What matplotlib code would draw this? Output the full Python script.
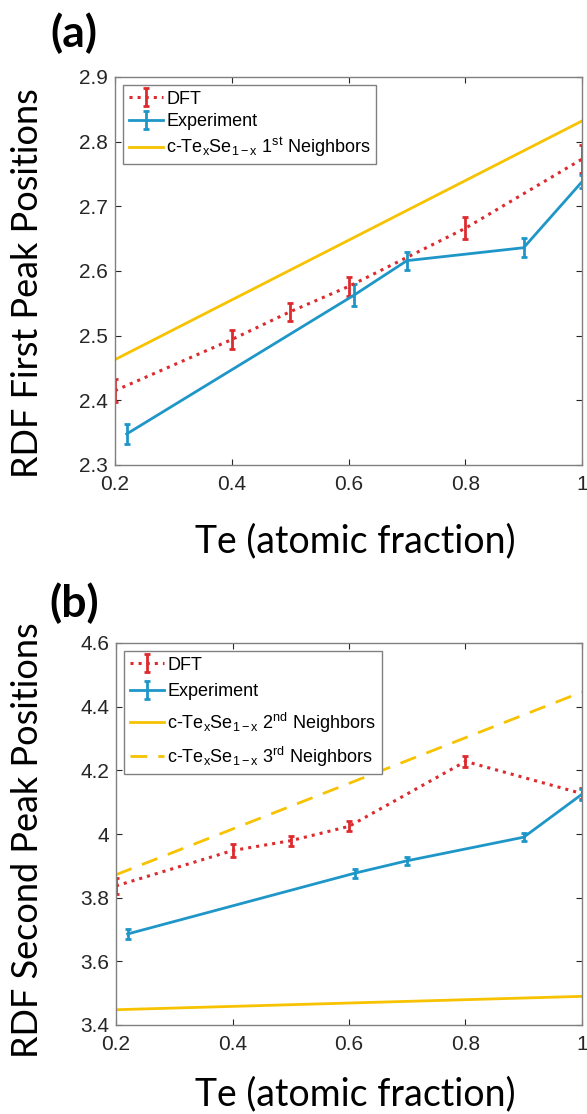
import matplotlib
matplotlib.use("Agg")
import matplotlib.pyplot as plt

plt.rcParams["font.family"] = ["Liberation Sans", "DejaVu Sans"]
plt.rcParams["mathtext.fontset"] = "custom"
plt.rcParams["mathtext.rm"] = "Liberation Sans"
plt.rcParams["mathtext.it"] = "Liberation Sans:italic"
plt.rcParams["mathtext.bf"] = "Liberation Sans:bold"

# (a) first peak positions
dft_x = [0.2, 0.4, 0.5, 0.6, 0.8, 1.0]
dft1_y = [2.415, 2.494, 2.537, 2.576, 2.666, 2.773]
dft1_err = [0.018, 0.015, 0.014, 0.015, 0.017, 0.022]
exp_x = [0.22, 0.61, 0.70, 0.90, 1.0]
exp1_y = [2.348, 2.563, 2.616, 2.636, 2.738]
exp1_err = [0.016, 0.017, 0.014, 0.015, 0.010]
cryst_x = [0.2, 1.0]
first_nb = [2.463, 2.832]

# (b) second peak positions
dft2_y = [3.837, 3.948, 3.979, 4.024, 4.228, 4.127]
dft2_err = [0.025, 0.021, 0.016, 0.016, 0.018, 0.016]
exp2_y = [3.686, 3.877, 3.916, 3.990, 4.125]
exp2_err = [0.017, 0.014, 0.013, 0.013, 0.017]
second_nb = [3.448, 3.490]
third_nb = [3.872, 4.446]

red = "#DC2A2E"
blue = "#1E96C8"
yellow = "#F7C200"
lab_font = ["Lato", "DejaVu Sans"]

fig = plt.figure(figsize=(5.87, 11.14), dpi=100)
W, H = 587, 1114
ax1 = fig.add_axes([115 / W, 1 - 465 / H, 467 / W, 388 / H])
ax2 = fig.add_axes([116 / W, 1 - 1025 / H, 466 / W, 382 / H])


def style(ax):
    ax.set_xlim(0.2, 1.0)
    ax.set_xticks([0.2, 0.4, 0.6, 0.8, 1.0])
    ax.set_xticklabels(["0.2", "0.4", "0.6", "0.8", "1"])
    ax.tick_params(direction="in", top=True, right=True, length=4,
                   width=0.8, labelsize=15, colors="#262626")
    ax.tick_params(axis="x", pad=7)
    ax.tick_params(axis="y", pad=5)
    for s in ax.spines.values():
        s.set_color("#808080")
        s.set_linewidth(1.0)


def add_legend(ax, handles, spacing):
    leg = ax.legend(handles=handles, loc="upper left", fontsize=13,
                    fancybox=False, edgecolor="#808080", framealpha=1,
                    handlelength=1.9, handletextpad=0.2, borderpad=0.3,
                    labelspacing=spacing, borderaxespad=0.45)
    leg.get_frame().set_linewidth(1.0)


d1 = ax1.errorbar(dft_x, dft1_y, yerr=dft1_err, color=red, ls=":", lw=2.2,
                  capsize=2.5, elinewidth=2, capthick=2, label="DFT")
e1 = ax1.errorbar(exp_x, exp1_y, yerr=exp1_err, color=blue, ls="-", lw=2,
                  capsize=2.5, elinewidth=2, capthick=2, label="Experiment")
n1, = ax1.plot(cryst_x, first_nb, color=yellow, lw=2,
               label=r"c-Te$_\mathrm{x}$Se$_\mathrm{1-x}$ 1$^\mathrm{st}$ Neighbors")
style(ax1)
ax1.set_ylim(2.3, 2.9)
ax1.set_yticks([2.3, 2.4, 2.5, 2.6, 2.7, 2.8, 2.9])
add_legend(ax1, [d1, e1, n1], 0.3)

d2 = ax2.errorbar(dft_x, dft2_y, yerr=dft2_err, color=red, ls=":", lw=2.2,
                  capsize=2.5, elinewidth=2, capthick=2, label="DFT")
e2 = ax2.errorbar(exp_x, exp2_y, yerr=exp2_err, color=blue, ls="-", lw=2,
                  capsize=2.5, elinewidth=2, capthick=2, label="Experiment")
n2, = ax2.plot(cryst_x, second_nb, color=yellow, lw=2,
               label=r"c-Te$_\mathrm{x}$Se$_\mathrm{1-x}$ 2$^\mathrm{nd}$ Neighbors")
n3, = ax2.plot(cryst_x, third_nb, color=yellow, lw=2, ls=(0, (6, 4)),
               label=r"c-Te$_\mathrm{x}$Se$_\mathrm{1-x}$ 3$^\mathrm{rd}$ Neighbors")
style(ax2)
ax2.set_ylim(3.4, 4.6)
ax2.set_yticks([3.4, 3.6, 3.8, 4.0, 4.2, 4.4, 4.6])
ax2.set_yticklabels(["3.4", "3.6", "3.8", "4", "4.2", "4.4", "4.6"])
add_legend(ax2, [d2, e2, n2, n3], 0.55)

# axis labels and panel letters
fig.text(28 / W, 1 - 283 / H, "RDF First Peak Positions", rotation=90,
         ha="center", va="center", fontsize=26, family=lab_font)
fig.text(28 / W, 1 - 840 / H, "RDF Second Peak Positions", rotation=90,
         ha="center", va="center", fontsize=26, family=lab_font)
fig.text(355 / W, 1 - 541 / H, "Te (atomic fraction)", ha="center",
         va="center", fontsize=27, family=lab_font)
fig.text(355 / W, 1 - 1094 / H, "Te (atomic fraction)", ha="center",
         va="center", fontsize=27, family=lab_font)
fig.text(74 / W, 1 - 33 / H, "(a)", ha="center", va="center",
         fontsize=32, fontweight="bold", family=lab_font)
fig.text(74 / W, 1 - 603 / H, "(b)", ha="center", va="center",
         fontsize=32, fontweight="bold", family=lab_font)

fig.savefig("out.png", dpi=100)
